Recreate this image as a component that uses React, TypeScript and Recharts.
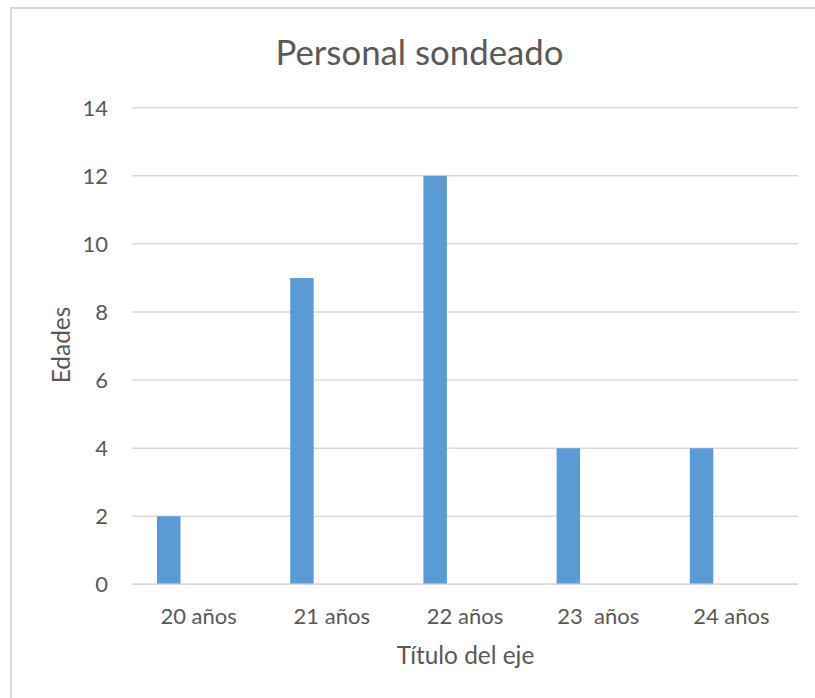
import React from 'react';
import { BarChart, Bar, XAxis, YAxis, CartesianGrid } from 'recharts';

const categories = ['20 años', '21 años', '22 años', '23  años', '24 años'];
const serie1 = [2, 9, 12, 4, 4];
const serie2: (number | null)[] = [null, null, null, null, null];
const serie3: (number | null)[] = [null, null, null, null, null];
const yTicks = [0, 2, 4, 6, 8, 10, 12, 14];

const title = 'Personal sondeado';
const yTitle = 'Edades';
const xTitle = 'Título del eje';

const data = categories.map((c, i) => ({ name: c, s1: serie1[i], s2: serie2[i], s3: serie3[i] }));

const FONT = 'Lato, "Open Sans", sans-serif';
const TEXT = '#595959';
const GRID = '#D9D9D9';
const BAR = '#5B9BD5';

const XTick = (props: any) => {
  const { x, y, payload } = props;
  return (
    <text x={x} y={y} dy="0.71em" textAnchor="middle" fill={TEXT} fontFamily={FONT} fontSize={22} style={{ whiteSpace: 'pre' }} xmlSpace="preserve">
      {payload.value}
    </text>
  );
};

export default function App() {
  return (
    <div style={{ position: 'absolute', left: 0, top: 0, width: 815, height: 698, overflow: 'hidden', background: '#fff' }}>
      <div style={{ position: 'absolute', left: 10, top: 7, width: 830, height: 720, border: `2px solid ${GRID}`, boxSizing: 'border-box' }} />
      <div style={{ position: 'absolute', left: 0, top: 0 }}>
        <BarChart
          width={815}
          height={698}
          data={data}
          margin={{ top: 107.7, right: 17, bottom: 83.7, left: 72 }}
          barSize={23.5}
          barGap={6}
        >
          <CartesianGrid vertical={false} stroke={GRID} strokeWidth={1.5} />
          <XAxis
            dataKey="name"
            axisLine={{ stroke: GRID, strokeWidth: 1.5 }}
            tickLine={false}
            tickSize={0}
            tickMargin={24}
            height={30}
            tick={<XTick />}
            interval={0}
          />
          <YAxis
            domain={[0, 14]}
            ticks={yTicks}
            width={60}
            axisLine={false}
            tickLine={false}
            tickSize={0}
            tickMargin={24}
            tick={{ fill: TEXT, fontFamily: FONT, fontSize: 22 }}
            interval={0}
          />
          <Bar dataKey="s1" fill={BAR} isAnimationActive={false} />
          <Bar dataKey="s2" fill="#ED7D31" isAnimationActive={false} />
          <Bar dataKey="s3" fill="#A5A5A5" isAnimationActive={false} />
        </BarChart>
      </div>
      <svg width={815} height={698} style={{ position: 'absolute', left: 0, top: 0, pointerEvents: 'none' }}>
        <text x={419.5} y={65} textAnchor="middle" fill={TEXT} fontFamily={FONT} fontSize={34.8}>{title}</text>
        <text x={0} y={0} transform="translate(70,345) rotate(-90)" textAnchor="middle" fill={TEXT} fontFamily={FONT} fontSize={24.4}>{yTitle}</text>
        <text x={465.5} y={663.5} textAnchor="middle" fill={TEXT} fontFamily={FONT} fontSize={24.4}>{xTitle}</text>
      </svg>
    </div>
  );
}
